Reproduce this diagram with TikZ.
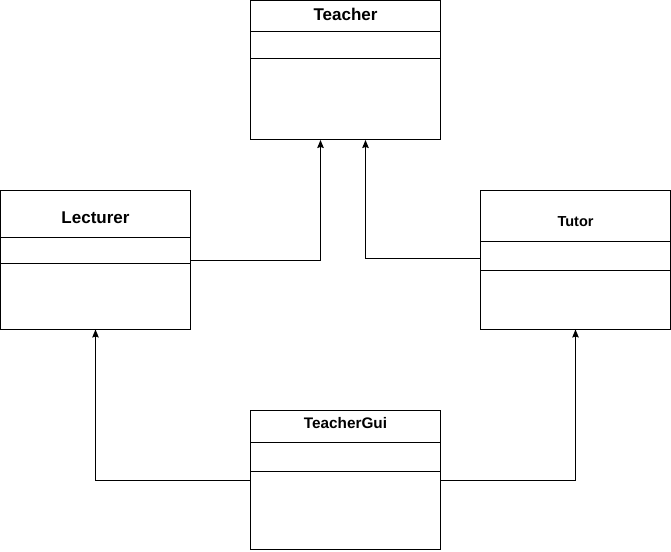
\documentclass[tikz,border=0pt]{standalone}
\usepackage{fontspec}
\setmainfont{Liberation Sans}
\usetikzlibrary{arrows.meta}
\begin{document}
\begin{tikzpicture}[x=1pt,y=1pt,
  classbox/.style={draw=black,line width=1pt,fill=white,minimum width=190pt,minimum height=139pt,inner sep=0pt,outer sep=0pt},
  title/.style={font=\bfseries,inner sep=0pt},
  divider/.style={line width=1pt},
  arr/.style={line width=0.9pt,-{Stealth[length=8pt,width=6.5pt,inset=1pt]}}]
\useasboundingbox (0,0) rectangle (671,551);
% classes
\node[classbox] (teacher) at (345.5,480.5) {};
\node[classbox] (lecturer) at (95.5,291) {};
\node[classbox] (tutor) at (575.5,291) {};
\node[classbox] (gui) at (345.5,71) {};
% dividers
\draw[divider] ([yshift=-31pt]teacher.north west) -- ([yshift=-31pt]teacher.north east);
\draw[divider] ([yshift=-58pt]teacher.north west) -- ([yshift=-58pt]teacher.north east);
\draw[divider] ([yshift=-47pt]lecturer.north west) -- ([yshift=-47pt]lecturer.north east);
\draw[divider] ([yshift=-73pt]lecturer.north west) -- ([yshift=-73pt]lecturer.north east);
\draw[divider] ([yshift=-51pt]tutor.north west) -- ([yshift=-51pt]tutor.north east);
\draw[divider] ([yshift=-80pt]tutor.north west) -- ([yshift=-80pt]tutor.north east);
\draw[divider] ([yshift=-32pt]gui.north west) -- ([yshift=-32pt]gui.north east);
\draw[divider] ([yshift=-61pt]gui.north west) -- ([yshift=-61pt]gui.north east);
% titles
\node[title,font=\fontsize{17}{19}\selectfont\bfseries] (tteacher) at (345.5,537) {Teacher};
\node[title,font=\fontsize{17}{19}\selectfont\bfseries] (tlecturer) at (95.5,333) {Lecturer};
\node[title,font=\fontsize{14.5}{16}\selectfont\bfseries] (ttutor) at (575.5,329) {Tutor};
\node[title,font=\fontsize{15.3}{17}\selectfont\bfseries] (tgui) at (345.5,128) {TeacherGui};
% connectors
\draw[arr] (lecturer.east) -| ([xshift=-25pt]teacher.south);
\draw[arr] ([yshift=2pt]tutor.west) -| ([xshift=20pt]teacher.south);
\draw[arr] (gui.west) -| (lecturer.south);
\draw[arr] (gui.east) -| (tutor.south);
\end{tikzpicture}
\end{document}
